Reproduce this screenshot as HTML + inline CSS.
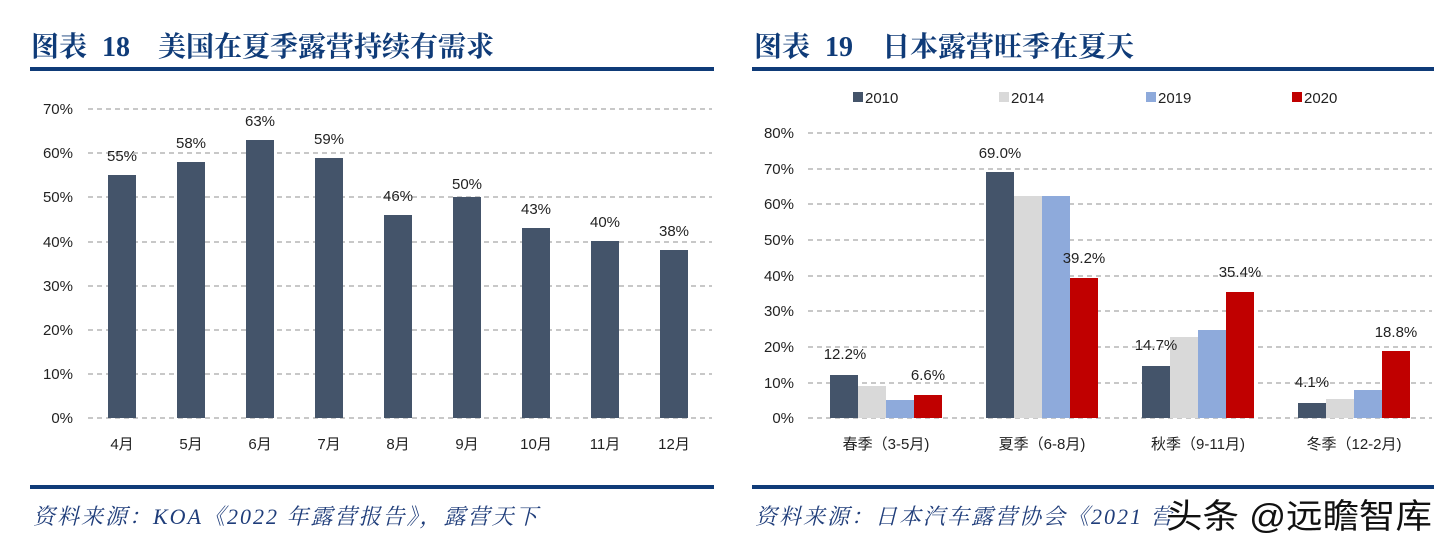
<!DOCTYPE html>
<html><head><meta charset="utf-8"><style>
html,body{margin:0;padding:0;background:#fff;}
body{width:1448px;height:548px;overflow:hidden;position:relative;}
svg{position:absolute;left:0;top:0;}
</style></head><body>
<svg width="1448" height="548" xmlns="http://www.w3.org/2000/svg">
<g font-family="Liberation Serif, Noto Serif CJK SC, serif" font-weight="bold" font-size="28" fill="#0f3b78">
<text x="31" y="56">图表</text><text x="102" y="56">18</text>
<text x="158" y="56">美国在夏季露营持续有需求</text>
<text x="754" y="56">图表</text><text x="825" y="56">19</text>
<text x="882" y="56">日本露营旺季在夏天</text>
</g>
<rect x="30" y="67" width="684" height="4" fill="#0f3b78"/>
<rect x="752" y="67" width="682" height="4" fill="#0f3b78"/>
<rect x="30" y="485" width="684" height="4" fill="#0f3b78"/>
<rect x="752" y="485" width="682" height="4" fill="#0f3b78"/>
<g font-family="Liberation Serif, Noto Serif CJK SC, serif" font-style="italic" font-size="22" fill="#1f3d7a" letter-spacing="2">
<text x="33" y="524">资料来源：KOA《2022 年露营报告》，露营天下</text>
<text x="755" y="524">资料来源：日本汽车露营协会《2021 营</text>
</g>
<g stroke="#a6a6a6" stroke-width="1.3" stroke-dasharray="5,4">
<line x1="88" y1="109" x2="712" y2="109"/><line x1="88" y1="153" x2="712" y2="153"/>
<line x1="88" y1="197" x2="712" y2="197"/><line x1="88" y1="242" x2="712" y2="242"/>
<line x1="88" y1="286" x2="712" y2="286"/><line x1="88" y1="330" x2="712" y2="330"/>
<line x1="88" y1="374" x2="712" y2="374"/><line x1="88" y1="418" x2="712" y2="418"/>
<line x1="808" y1="133" x2="1432" y2="133"/><line x1="808" y1="169" x2="1432" y2="169"/>
<line x1="808" y1="204" x2="1432" y2="204"/><line x1="808" y1="240" x2="1432" y2="240"/>
<line x1="808" y1="276" x2="1432" y2="276"/><line x1="808" y1="311" x2="1432" y2="311"/>
<line x1="808" y1="347" x2="1432" y2="347"/><line x1="808" y1="383" x2="1432" y2="383"/>
<line x1="808" y1="418" x2="1432" y2="418"/>
</g>
<g font-family="Liberation Sans, Noto Sans CJK SC, sans-serif" font-size="15" fill="#222" text-anchor="end">
<text x="73" y="114">70%</text><text x="73" y="158">60%</text><text x="73" y="202">50%</text>
<text x="73" y="247">40%</text><text x="73" y="291">30%</text><text x="73" y="335">20%</text>
<text x="73" y="379">10%</text><text x="73" y="423">0%</text>
<text x="794" y="138">80%</text><text x="794" y="174">70%</text><text x="794" y="209">60%</text>
<text x="794" y="245">50%</text><text x="794" y="281">40%</text><text x="794" y="316">30%</text>
<text x="794" y="352">20%</text><text x="794" y="388">10%</text><text x="794" y="423">0%</text>
</g>
<g fill="#44546a">
<rect x="108" y="175" width="28" height="243"/>
<rect x="177" y="162" width="28" height="256"/>
<rect x="246" y="140" width="28" height="278"/>
<rect x="315" y="158" width="28" height="260"/>
<rect x="384" y="215" width="28" height="203"/>
<rect x="453" y="197" width="28" height="221"/>
<rect x="522" y="228" width="28" height="190"/>
<rect x="591" y="241" width="28" height="177"/>
<rect x="660" y="250" width="28" height="168"/>
</g>
<g>
<rect x="830" y="375" width="28" height="43" fill="#44546a"/>
<rect x="858" y="386" width="28" height="32" fill="#d9d9d9"/>
<rect x="886" y="400" width="28" height="18" fill="#8eaadb"/>
<rect x="914" y="395" width="28" height="23" fill="#c00000"/>
<rect x="986" y="172" width="28" height="246" fill="#44546a"/>
<rect x="1014" y="196" width="28" height="222" fill="#d9d9d9"/>
<rect x="1042" y="196" width="28" height="222" fill="#8eaadb"/>
<rect x="1070" y="278" width="28" height="140" fill="#c00000"/>
<rect x="1142" y="366" width="28" height="52" fill="#44546a"/>
<rect x="1170" y="337" width="28" height="81" fill="#d9d9d9"/>
<rect x="1198" y="330" width="28" height="88" fill="#8eaadb"/>
<rect x="1226" y="292" width="28" height="126" fill="#c00000"/>
<rect x="1298" y="403" width="28" height="15" fill="#44546a"/>
<rect x="1326" y="399" width="28" height="19" fill="#d9d9d9"/>
<rect x="1354" y="390" width="28" height="28" fill="#8eaadb"/>
<rect x="1382" y="351" width="28" height="67" fill="#c00000"/>
</g>
<g font-family="Liberation Sans, Noto Sans CJK SC, sans-serif" font-size="15" fill="#222" text-anchor="middle">
<text x="122" y="161">55%</text><text x="191" y="148">58%</text><text x="260" y="126">63%</text>
<text x="329" y="144">59%</text><text x="398" y="201">46%</text><text x="467" y="189">50%</text>
<text x="536" y="214">43%</text><text x="605" y="227">40%</text><text x="674" y="236">38%</text>
<text x="122" y="449">4月</text><text x="191" y="449">5月</text><text x="260" y="449">6月</text>
<text x="329" y="449">7月</text><text x="398" y="449">8月</text><text x="467" y="449">9月</text>
<text x="536" y="449">10月</text><text x="605" y="449">11月</text><text x="674" y="449">12月</text>
<text x="886" y="449">春季（3-5月)</text><text x="1042" y="449">夏季（6-8月)</text>
<text x="1198" y="449">秋季（9-11月)</text><text x="1354" y="449">冬季（12-2月)</text>
<text x="845" y="359">12.2%</text><text x="928" y="380">6.6%</text>
<text x="1000" y="158">69.0%</text><text x="1084" y="263">39.2%</text>
<text x="1156" y="350">14.7%</text><text x="1240" y="277">35.4%</text>
<text x="1312" y="387">4.1%</text><text x="1396" y="337">18.8%</text>
</g>
<g font-family="Liberation Sans, sans-serif" font-size="15" fill="#222">
<rect x="853" y="92" width="10" height="10" fill="#44546a"/><text x="865" y="103">2010</text>
<rect x="999" y="92" width="10" height="10" fill="#d9d9d9"/><text x="1011" y="103">2014</text>
<rect x="1146" y="92" width="10" height="10" fill="#8eaadb"/><text x="1158" y="103">2019</text>
<rect x="1292" y="92" width="10" height="10" fill="#c00000"/><text x="1304" y="103">2020</text>
</g>
<text x="1166" y="528" font-family="Liberation Sans, Noto Sans CJK SC, sans-serif" font-size="34" fill="#111" stroke="#fff" stroke-width="3" paint-order="stroke" textLength="266" lengthAdjust="spacingAndGlyphs">头条 @远瞻智库</text>
</svg>
</body></html>
